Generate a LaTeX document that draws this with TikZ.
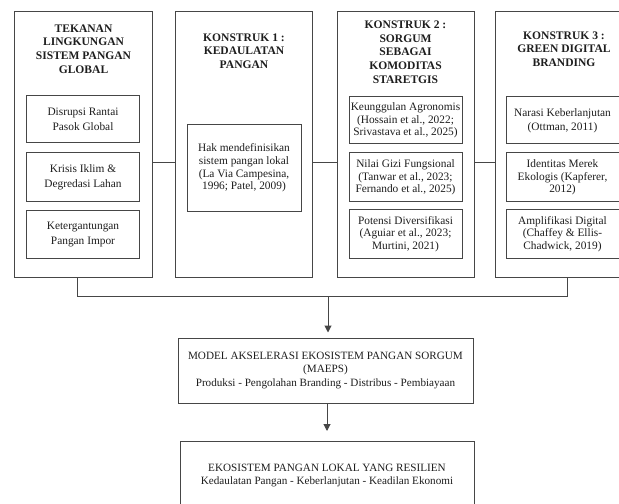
\documentclass[tikz,border=0pt]{standalone}
\usepackage{fontspec}
\setmainfont{Liberation Serif}
\usetikzlibrary{arrows.meta}
\definecolor{lc}{RGB}{70,70,70}
\definecolor{tc}{RGB}{30,30,30}
\begin{document}
\begin{tikzpicture}[x=1bp,y=-1bp,
  outer/.style={draw=lc,line width=1bp,fill=white,minimum width=137bp,minimum height=266bp,inner sep=0pt,anchor=north},
  inbox/.style={draw=lc,line width=1bp,fill=white,minimum width=113bp,inner sep=0pt,align=center,text=tc,font=\fontsize{11.4}{12.6}\selectfont},
  ttl/.style={align=center,text=tc,font=\fontsize{11.6}{13.8}\selectfont\bfseries},
  mainbox/.style={draw=lc,line width=1bp,fill=white,minimum width=295bp,inner sep=0pt,align=center,text=tc,font=\fontsize{11.2}{13.4}\selectfont},
  conn/.style={draw=lc,line width=1bp},
  arr/.style={conn,-{Triangle[length=7bp,width=7bp]}}]
\useasboundingbox (0,0) rectangle (619,504);
\clip (0,0) rectangle (619,504);
\fill[white] (0,0) rectangle (619,504);
% outer boxes
\node[outer] (b1) at (83.5,11) {};
\node[outer] (b2) at (244,11) {};
\node[outer] (b3) at (405.5,11) {};
\node[outer,minimum width=138bp] (b4) at (564,11) {};
% titles
\node[ttl] (t1) at (83.5,49) {TEKANAN\\LINGKUNGAN\\SISTEM PANGAN\\GLOBAL};
\node[ttl] (t2) at (244,51) {KONSTRUK 1 :\\KEDAULATAN\\PANGAN};
\node[ttl] (t3) at (405.5,52) {KONSTRUK 2 :\\SORGUM\\SEBAGAI\\KOMODITAS\\STARETGIS};
\node[ttl] (t4) at (564,49) {KONSTRUK 3 :\\GREEN DIGITAL\\BRANDING};
% inner boxes column 1
\node[inbox,minimum height=47bp,font=\fontsize{11.4}{14.5}\selectfont] (a1) at (83,119.5) {Disrupsi Rantai\\Pasok Global};
\node[inbox,minimum height=49bp,font=\fontsize{11.4}{14.5}\selectfont] (a2) at (83,177.5) {Krisis Iklim \&\\Degredasi Lahan};
\node[inbox,minimum height=47bp,font=\fontsize{11.4}{14.5}\selectfont] (a3) at (83,234.5) {Ketergantungan\\Pangan Impor};
% column 2
\node[inbox,minimum width=114bp,minimum height=86bp] (k1) at (244,168) {Hak mendefinisikan\\sistem pangan lokal\\(La Via Campesina,\\1996; Patel, 2009)};
% column 3
\node[inbox,minimum height=47bp] (c1) at (405.5,120.5) {Keunggulan Agronomis\\(Hossain et al., 2022;\\Srivastava et al., 2025)};
\node[inbox,minimum height=49bp] (c2) at (405.5,177.5) {Nilai Gizi Fungsional\\(Tanwar et al., 2023;\\Fernando et al., 2025)};
\node[inbox,minimum height=48bp] (c3) at (405.5,234) {Potensi Diversifikasi\\(Aguiar et al., 2023;\\Murtini, 2021)};
% column 4
\node[inbox,minimum height=47bp,font=\fontsize{11.4}{14.5}\selectfont] (d1) at (562.5,120.5) {Narasi Keberlanjutan\\(Ottman, 2011)};
\node[inbox,minimum height=49bp] (d2) at (562.5,177.5) {Identitas Merek\\Ekologis (Kapferer,\\2012)};
\node[inbox,minimum height=48bp] (d3) at (562.5,234) {Amplifikasi Digital\\(Chaffey \& Ellis-\\Chadwick, 2019)};
% horizontal links
\draw[conn] (b1.east |- 0,163) -- (b2.west |- 0,163);
\draw[conn] (b2.east |- 0,163) -- (b3.west |- 0,163);
\draw[conn] (b3.east |- 0,163) -- (b4.west |- 0,163);
% bus
\coordinate (busL) at (77,296);
\coordinate (busR) at (567,296);
\coordinate (busM) at (328,296);
\draw[conn] (b1.south -| busL) -- (busL) -- (busR) -- (b4.south -| busR);
% lower boxes
\node[mainbox,minimum height=65bp] (m) at (325.5,370.5) {MODEL AKSELERASI EKOSISTEM PANGAN SORGUM\\(MAEPS)\\Produksi - Pengolahan Branding - Distribus - Pembiayaan};
\node[mainbox,minimum width=294bp,minimum height=68bp,anchor=north] (e) at (327,441) {EKOSISTEM PANGAN LOKAL YANG RESILIEN\\Kedaulatan Pangan - Keberlanjutan - Keadilan Ekonomi};
\draw[arr,shorten >=5bp] (busM) -- (m.north -| busM);
\draw[arr,shorten >=10bp] (m.south -| 327,0) -- (e.north -| 327,0);
\end{tikzpicture}
\end{document}
